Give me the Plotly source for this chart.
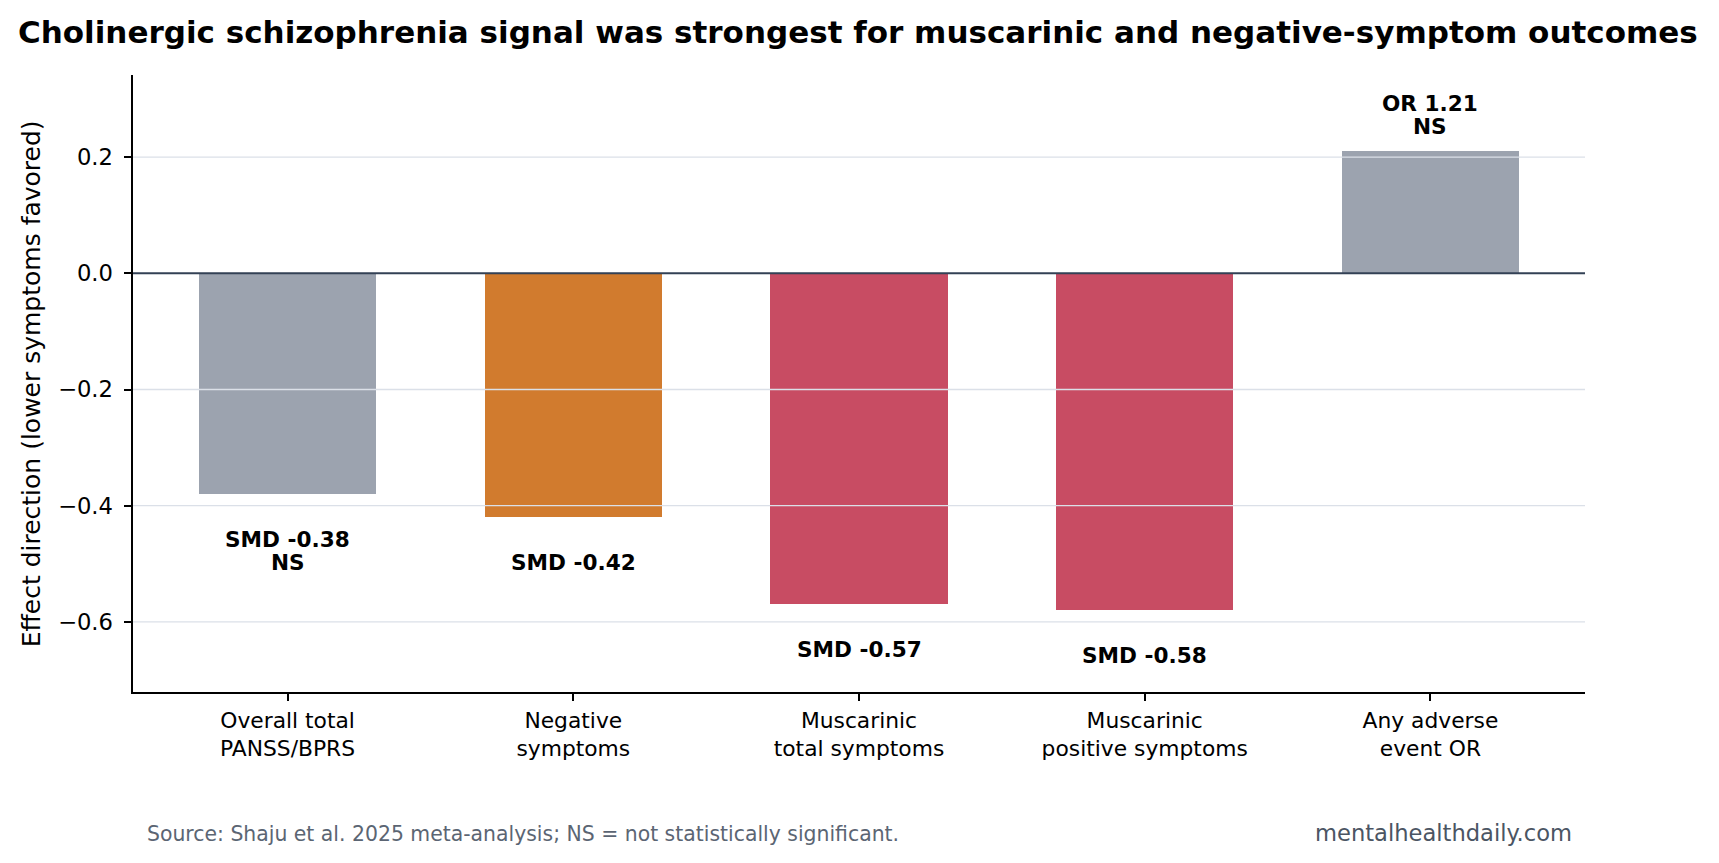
import plotly.graph_objects as go

categories = ["Overall total\nPANSS/BPRS", "Negative\nsymptoms", "Muscarinic\ntotal symptoms",
              "Muscarinic\npositive symptoms", "Any adverse\nevent OR"]
values = [-0.38, -0.42, -0.57, -0.58, 0.21]
bar_labels = ["SMD -0.38\nNS", "SMD -0.42", "SMD -0.57", "SMD -0.58", "OR 1.21\nNS"]
bar_colors = ["#9ca3af", "#d17b2e", "#c84c63", "#c84c63", "#9ca3af"]
ytick_vals = [-0.6, -0.4, -0.2, 0.0, 0.2]
ytick_text = ["\u22120.6", "\u22120.4", "\u22120.2", "0.0", "0.2"]

title = "Cholinergic schizophrenia signal was strongest for muscarinic and negative-symptom outcomes"
ylabel = "Effect direction (lower symptoms favored)"
source = "Source: Shaju et al. 2025 meta-analysis; NS = not statistically significant."
brand = "mentalhealthdaily.com"

FONT = "DejaVu Sans"
W, H = 1719, 863
L, R, T, B = 133, 1585, 74.5, 692


def px(xp):
    return (xp - L) / (R - L)


def py(yp):
    return (B - yp) / (B - T)


xpos = list(range(len(categories)))

fig = go.Figure()
fig.add_trace(go.Bar(
    x=xpos, y=values, width=0.62,
    marker=dict(color=bar_colors, line=dict(width=0)),
    hoverinfo="skip",
))

shapes = []
for v in ytick_vals:
    if v == 0:
        continue
    shapes.append(dict(type="line", xref="paper", yref="y", x0=0, x1=1, y0=v, y1=v,
                       line=dict(color="#dbe0e8", width=1.3), layer="above"))
shapes.append(dict(type="line", xref="paper", yref="y", x0=0, x1=1, y0=0, y1=0,
                   line=dict(color="#334155", width=2), layer="above"))

annotations = []
for x, v, lab in zip(xpos, values, bar_labels):
    lines = lab.split("\n")
    n = len(lines)
    for i, line in enumerate(lines):
        if v < 0:
            ys = -45 - i * 23
        else:
            ys = 25 + (n - 1 - i) * 23
        annotations.append(dict(x=x, y=v, xref="x", yref="y", text="<b>%s</b>" % line,
                                showarrow=False, yanchor="middle", xanchor="center",
                                yshift=ys, font=dict(family=FONT, size=21.6, color="#000000")))

annotations.append(dict(x=px(15.5), y=py(31), xref="paper", yref="paper", text="<b>%s</b>" % title,
                        showarrow=False, xanchor="left", yanchor="middle",
                        font=dict(family=FONT, size=31, color="#000000")))
annotations.append(dict(x=px(31), y=py(384), xref="paper", yref="paper", text=ylabel,
                        showarrow=False, xanchor="center", yanchor="middle", textangle=-90,
                        font=dict(family=FONT, size=25, color="#000000")))
annotations.append(dict(x=px(145), y=py(834), xref="paper", yref="paper", text=source,
                        showarrow=False, xanchor="left", yanchor="middle",
                        font=dict(family=FONT, size=20.4, color="#5b6573")))
annotations.append(dict(x=px(1574), y=py(833), xref="paper", yref="paper", text=brand,
                        showarrow=False, xanchor="right", yanchor="middle",
                        font=dict(family=FONT, size=22.6, color="#4b5563")))

fig.update_layout(
    width=W, height=H,
    margin=dict(l=L, r=W - R, t=T, b=H - B, pad=0),
    paper_bgcolor="white", plot_bgcolor="white",
    showlegend=False, bargap=0,
    font=dict(family=FONT, color="#000000"),
    shapes=shapes, annotations=annotations,
    xaxis=dict(range=[-0.541, 4.541], tickvals=xpos,
               ticktext=[c.replace("\n", "<br>") for c in categories],
               showgrid=False, zeroline=False, showline=True, linecolor="#000000", linewidth=1.7,
               ticks="outside", ticklen=7.6, tickwidth=1.5, tickcolor="#000000",
               tickfont=dict(family=FONT, size=21.8, color="#000000"), fixedrange=True),
    yaxis=dict(range=[-0.7208, 0.3415], tickvals=ytick_vals, ticktext=ytick_text,
               showgrid=False, zeroline=False, showline=True, linecolor="#000000", linewidth=1.7,
               ticks="outside", ticklen=7.6, tickwidth=1.5, tickcolor="#000000",
               ticklabelstandoff=6,
               tickfont=dict(family=FONT, size=22.7, color="#000000"), fixedrange=True),
)

fig.write_html("out.html")
